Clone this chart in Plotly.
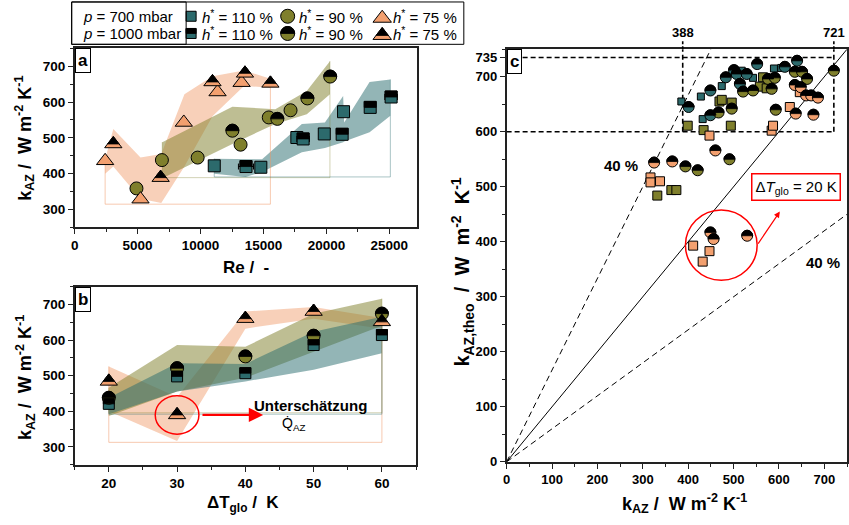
import math
import plotly.graph_objects as go

W, H = 849, 525
FONT = "Liberation Sans, Arial, Helvetica, sans-serif"

TEAL = "#2C6A6C"
OLIVE = "#7F7F2C"
ORANGE = "#F3A06F"
BAND = {"orange": "rgba(240,150,100,0.45)", "olive": "rgba(125,125,40,0.5)", "teal": "rgba(40,108,110,0.5)"}
EDGE = {"orange": "rgba(240,150,100,0.5)", "olive": "rgba(125,125,40,0.35)", "teal": "rgba(40,108,110,0.4)"}

# ---------------- (a) k_AZ over Re ----------------
re_tri_700 = [2420, 5230, 8670, 11350, 13260]
k_tri_700 = [436, 329, 543, 628, 654]
re_tri_1000 = [3070, 6830, 10950, 13530, 15550]
k_tri_1000 = [483, 389, 656, 680, 652]
re_cir_700 = [4910, 6930, 9770, 13180, 15420, 17150]
k_cir_700 = [359, 438, 445, 481, 557, 577]
re_cir_1000 = [12530, 16100, 18490, 20300]
k_cir_1000 = [520, 553, 610, 671]
re_sq_700 = [11090, 14790, 17650, 19830, 21360]
k_sq_700 = [422, 418, 501, 511, 573]
re_sq_1000 = [13610, 18150, 21250, 23480, 25140]
k_sq_1000 = [420, 497, 510, 585, 614]
re_err_cir_700 = [300, 0, 0, 0, 0, 0]
re_err_sq_1000 = [600, 500, 0, 0, 500]

band_a_orange_re = [2420, 3070, 5230, 6880, 8720, 10950, 13450, 15550]
band_a_orange_hi = [440, 525, 445, 455, 622, 672, 688, 665]
band_a_orange_lo = [400, 420, 330, 318, 420, 560, 645, 640]
band_a_olive_re = [6960, 12530, 15940, 18440, 20280]
band_a_olive_hi = [488, 587, 580, 631, 714]
band_a_olive_lo = [387, 483, 539, 566, 622]
band_a_teal_re = [11090, 13580, 14890, 18050, 19880, 21330, 21410, 23430, 25080]
band_a_teal_hi = [442, 442, 440, 539, 543, 617, 543, 656, 663]
band_a_teal_lo = [400, 391, 405, 460, 472, 488, 490, 516, 562]
base_a = {"orange": 315, "olive": 389, "teal": 391}

# ---------------- (b) k_AZ over Delta T_glo ----------------
dt_glo = [20, 30, 40, 50, 60]
kb_tri = [484, 390, 660, 680, 651]
kb_cir = [438, 521, 554, 612, 674]
kb_sq = [421, 498, 507, 586, 614]
band_b_orange_hi = [526, 440, 680, 693, 662]
band_b_orange_lo = [400, 317, 632, 660, 632]
band_b_olive_hi = [466, 586, 581, 674, 716]
band_b_olive_lo = [387, 456, 494, 567, 640]
band_b_teal_hi = [438, 535, 533, 623, 665]
band_b_teal_lo = [392, 456, 484, 517, 563]
base_b = {"orange": 313, "olive": 396, "teal": 392}

# ---------------- (c) k_AZ,theo over k_AZ ----------------
c_sq_110_x = [385, 428, 432, 474, 503, 518, 543, 589, 605]
c_sq_110_y = [655, 664, 623, 683, 709, 711, 698, 715, 716]
c_ci_110_x = [401, 449, 449, 483, 501, 507, 529, 514, 552, 613, 640]
c_ci_110_y = [645, 675, 630, 699, 712, 705, 705, 687, 723, 718, 729]
c_sq_90_x = [399, 434, 469, 474, 496, 494, 332, 363, 374, 565, 558, 573]
c_sq_90_y = [611, 603, 655, 658, 653, 611, 484, 494, 494, 699, 682, 679]
c_ci_90_x = [521, 543, 467, 496, 576, 584, 591, 593, 635, 651, 662, 721, 394, 421, 491]
c_ci_90_y = [673, 675, 635, 642, 696, 678, 698, 640, 709, 709, 696, 711, 537, 530, 550]
c_sq_75_x = [317, 317, 338, 447, 584, 587, 624, 646, 411, 447, 432]
c_sq_75_y = [517, 508, 510, 593, 602, 611, 645, 672, 393, 383, 364]
c_ci_75_x = [325, 365, 460, 635, 648, 660, 671, 686, 676, 637, 449, 456, 530]
c_ci_75_y = [544, 546, 566, 685, 681, 666, 666, 662, 631, 633, 417, 405, 411]

deviation = 0.40
box_x = [388, 721]
box_y = [600, 735]
c_max = 750

legend_h = ["110", "90", "75"]
legend_p = ["700", "1000"]

fig = go.Figure()
shapes, annotations = [], []


def px(x):
    return x / W


def py(y):
    return 1 - y / H


def half_path(symbol, size):
    r = size / 2.0
    if symbol == "circle":
        pts = [(r * math.cos(math.pi * i / 16), r * math.sin(math.pi * i / 16)) for i in range(17)]
    elif symbol == "square":
        pts = [(-r, 0), (r, 0), (r, r), (-r, r)]
    else:
        w = (2 * r / math.sqrt(3)) / 1.5
        pts = [(-w, 0), (w, 0), (0, r)]
    return "M " + " L ".join(f"{a:.2f},{b:.2f}" for a, b in pts) + " Z"


def band(xs, hi, lo, key, xa, ya):
    fig.add_trace(go.Scatter(x=list(xs) + list(xs)[::-1], y=list(hi) + list(lo)[::-1],
                             fill="toself", fillcolor=BAND[key], line=dict(width=0), mode="lines",
                             xaxis=xa, yaxis=ya, hoverinfo="skip", showlegend=False))


def outline(xs, hi, base, key, xa, ya):
    fig.add_trace(go.Scatter(x=[xs[0], xs[0], xs[-1], xs[-1]], y=[hi[0], base, base, hi[-1]],
                             mode="lines", line=dict(color=EDGE[key], width=1),
                             xaxis=xa, yaxis=ya, hoverinfo="skip", showlegend=False))


def markers(xs, ys, symbol, color, size, xa, ya, half=False, ex=None, ey=None):
    kw = {}
    if ex is not None:
        kw["error_x"] = dict(type="data", array=ex, color="black", thickness=1, width=3)
    if ey is not None:
        kw["error_y"] = dict(type="data", array=ey, color="black", thickness=1, width=0)
    fig.add_trace(go.Scatter(x=xs, y=ys, mode="markers",
                             marker=dict(symbol=symbol, size=size, color=color,
                                         line=dict(color="black", width=1)),
                             xaxis=xa, yaxis=ya, cliponaxis=False, hoverinfo="skip",
                             showlegend=False, **kw))
    if half:
        path = half_path(symbol, size)
        for x, y in zip(xs, ys):
            shapes.append(dict(type="path", xref=xa, yref=ya, xsizemode="pixel", ysizemode="pixel",
                               xanchor=x, yanchor=y, path=path, fillcolor="black",
                               line=dict(color="black", width=0.8), layer="above"))


def text(t, x, y, size=15, bold=False, xanchor="center", yanchor="middle", angle=0, color="black", **kw):
    annotations.append(dict(text=t, x=px(x), y=py(y), xref="paper", yref="paper", showarrow=False,
                            xanchor=xanchor, yanchor=yanchor, textangle=angle,
                            font=dict(family=FONT, size=size, color=color,
                                      weight="bold" if bold else "normal"), **kw))


# ---- panel a ----
band(band_a_orange_re, band_a_orange_hi, band_a_orange_lo, "orange", "x", "y")
band(band_a_olive_re, band_a_olive_hi, band_a_olive_lo, "olive", "x", "y")
band(band_a_teal_re, band_a_teal_hi, band_a_teal_lo, "teal", "x", "y")
outline(band_a_orange_re, band_a_orange_hi, base_a["orange"], "orange", "x", "y")
outline(band_a_olive_re, band_a_olive_hi, base_a["olive"], "olive", "x", "y")
outline(band_a_teal_re, band_a_teal_hi, base_a["teal"], "teal", "x", "y")
markers(re_sq_700, k_sq_700, "square", TEAL, 12, "x", "y")
markers(re_sq_1000, k_sq_1000, "square", TEAL, 12, "x", "y", half=True, ex=re_err_sq_1000)
markers(re_cir_700, k_cir_700, "circle", OLIVE, 13, "x", "y", ex=re_err_cir_700, ey=[8] * len(k_cir_700))
markers(re_cir_1000, k_cir_1000, "circle", OLIVE, 13, "x", "y", half=True, ey=[8] * len(k_cir_1000))
markers(re_tri_700, k_tri_700, "triangle-up", ORANGE, 15, "x", "y", ey=[8] * len(k_tri_700))
markers(re_tri_1000, k_tri_1000, "triangle-up", ORANGE, 15, "x", "y", half=True, ey=[8] * len(k_tri_1000))

# ---- panel b ----
band(dt_glo, band_b_orange_hi, band_b_orange_lo, "orange", "x2", "y2")
band(dt_glo, band_b_olive_hi, band_b_olive_lo, "olive", "x2", "y2")
band(dt_glo, band_b_teal_hi, band_b_teal_lo, "teal", "x2", "y2")
outline(dt_glo, band_b_orange_hi, base_b["orange"], "orange", "x2", "y2")
outline(dt_glo, band_b_olive_hi, base_b["olive"], "olive", "x2", "y2")
outline(dt_glo, band_b_teal_hi, base_b["teal"], "teal", "x2", "y2")
markers(dt_glo, kb_sq, "square", TEAL, 11, "x2", "y2", half=True, ey=[10] * 5)
markers(dt_glo, kb_cir, "circle", OLIVE, 13, "x2", "y2", half=True, ey=[10] * 5)
markers(dt_glo, kb_tri, "triangle-up", ORANGE, 15, "x2", "y2", half=True, ey=[8] * 5)

# red mark around the under-estimated point
mark_x, mark_y = dt_glo[1], kb_tri[1]
shapes.append(dict(type="circle", xref="x2", yref="y2", x0=mark_x - 3.2, x1=mark_x + 3.2,
                   y0=mark_y - 54, y1=mark_y + 54, line=dict(color="red", width=1.5), layer="above"))
annotations.append(dict(x=42.6, y=mark_y, ax=mark_x + 3.5, ay=mark_y, xref="x2", yref="y2",
                        axref="x2", ayref="y2", showarrow=True, arrowhead=2, arrowsize=1.3,
                        arrowwidth=2.2, arrowcolor="red", text=""))
text("Unterschätzung", 308, 412, size=15, bold=True)
text("Q\u0307<sub>AZ</sub>", 291, 431, size=14)

# ---- panel c ----
diag = [0, c_max]
fig.add_trace(go.Scatter(x=diag, y=diag, mode="lines", line=dict(color="black", width=1),
                         xaxis="x3", yaxis="y3", hoverinfo="skip", showlegend=False))
fig.add_trace(go.Scatter(x=[0, c_max * (1 - deviation)], y=[0, c_max], mode="lines",
                         line=dict(color="black", width=1, dash="6px,4px"),
                         xaxis="x3", yaxis="y3", hoverinfo="skip", showlegend=False))
fig.add_trace(go.Scatter(x=[0, c_max], y=[0, c_max * (1 - deviation)], mode="lines",
                         line=dict(color="black", width=1, dash="6px,4px"),
                         xaxis="x3", yaxis="y3", hoverinfo="skip", showlegend=False))
for yv in box_y:
    fig.add_trace(go.Scatter(x=[0, box_x[1]], y=[yv, yv], mode="lines",
                             line=dict(color="black", width=1.6, dash="5px,3px"),
                             xaxis="x3", yaxis="y3", hoverinfo="skip", showlegend=False))
for xv in box_x:
    fig.add_trace(go.Scatter(x=[xv, xv], y=[box_y[0], c_max], mode="lines",
                             line=dict(color="black", width=1.6, dash="5px,3px"),
                             xaxis="x3", yaxis="y3", hoverinfo="skip", showlegend=False))
    shapes.append(dict(type="line", xref="x3", yref="paper", x0=xv, x1=xv, y0=py(50), y1=py(42),
                       line=dict(color="black", width=1.6, dash="3px,2px")))
    annotations.append(dict(text=str(xv), x=xv, y=py(33), xref="x3", yref="paper", showarrow=False,
                            xanchor="center", yanchor="middle",
                            font=dict(family=FONT, size=13, color="black", weight="bold")))

markers(c_sq_110_x, c_sq_110_y, "square", TEAL, 7, "x3", "y3")
markers(c_sq_90_x, c_sq_90_y, "square", OLIVE, 9, "x3", "y3")
markers(c_sq_75_x, c_sq_75_y, "square", ORANGE, 9, "x3", "y3")
markers(c_ci_110_x, c_ci_110_y, "circle", TEAL, 11, "x3", "y3", half=True)
markers(c_ci_90_x, c_ci_90_y, "circle", OLIVE, 11, "x3", "y3", half=True)
markers(c_ci_75_x, c_ci_75_y, "circle", ORANGE, 11, "x3", "y3", half=True)

ccx, ccy, crx, cry = 473, 394, 79, 64
shapes.append(dict(type="circle", xref="x3", yref="y3", x0=ccx - crx, x1=ccx + crx,
                   y0=ccy - cry, y1=ccy + cry, line=dict(color="red", width=1.5), layer="above"))
annotations.append(dict(x=602, y=455, ax=ccx + crx, ay=ccy, xref="x3", yref="y3", axref="x3",
                        ayref="y3", showarrow=True, arrowhead=2, arrowsize=1, arrowwidth=1.2,
                        arrowcolor="red", text=""))
text("\u0394<i>T</i><sub>glo</sub> = 20 K", 796, 190, size=15, bordercolor="red", borderwidth=1.5,
     borderpad=3, bgcolor="white")
text("40 %", 620, 168, size=15, bold=True)
text("40 %", 823, 267, size=15, bold=True)

# ---- panel labels ----
for lab, xr, yr in [("a", "x", "y"), ("b", "x2", "y2"), ("c", "x3", "y3")]:
    annotations.append(dict(text=lab, x=0, y=1, xref=f"{xr} domain", yref=f"{yr} domain",
                            showarrow=False, xanchor="left", yanchor="top", bgcolor="white",
                            bordercolor="black", borderwidth=1, borderpad=2,
                            font=dict(family=FONT, size=17, color="black", weight="bold")))

# ---- axis titles ----
S = "\u00a0"
kaz = f"k<sub>AZ</sub>{S}/{S}{S}W{S}m<sup>-2</sup>{S}K<sup>-1</sup>"
text(kaz, 21, 140, size=18, bold=True, angle=-90)
text(kaz, 21, 383, size=18, bold=True, angle=-90)
text(f"Re{S}/{S}{S}-", 243, 272, size=17, bold=True)
text(f"\u0394T<sub>glo</sub>{S}/{S}{S}K", 240, 512, size=17, bold=True)
text(f"k<sub>AZ,theo</sub>{S}{S}/{S}{S}W{S}{S}m<sup>-2</sup>{S}{S}K<sup>-1</sup>", 461, 276,
     size=20, bold=True, angle=-90)
text(kaz, 684, 511, size=18, bold=True)

# ---- legend ----
shapes.append(dict(type="rect", xref="paper", yref="paper", x0=px(68), x1=px(462), y0=py(45), y1=py(2),
                   line=dict(color="black", width=1), fillcolor="white", layer="below"))
shapes.append(dict(type="rect", xref="paper", yref="paper", x0=px(68), x1=px(183), y0=py(45), y1=py(2),
                   line=dict(color="black", width=1)))
leg_rows = [16.5, 34]
leg_cols = [188, 285, 380]
leg_sym = [("square", TEAL, 10), ("circle", OLIVE, 14), ("triangle-up", ORANGE, 16)]
for ri, (pv, ry) in enumerate(zip(legend_p, leg_rows)):
    text(f"<i>p</i> = {pv} mbar", 77, ry, size=15, xanchor="left")
    for (sym, col, sz), cx, hv in zip(leg_sym, leg_cols, legend_h):
        yoff = 2 if sym == "triangle-up" else 0
        markers([cx], [ry + yoff], sym, col, sz, "x4", "y4", half=(ri == 1))
        text(f"<i>h</i><sup>*</sup> = {hv} %", cx + 9, ry, size=15, xanchor="left")


def ax_style(rng, size=13.5, **kw):
    d = dict(range=rng, showline=True, linecolor="#222", linewidth=1.5, mirror=True, ticks="outside",
             ticklen=5, tickwidth=1.2, tickcolor="#222", showgrid=False, zeroline=False,
             tickfont=dict(family=FONT, size=size, color="black", weight="bold"))
    d.update(kw)
    return d


fig.update_layout(
    width=W, height=H, margin=dict(l=0, r=0, t=0, b=0),
    paper_bgcolor="white", plot_bgcolor="rgba(0,0,0,0)", showlegend=False,
    xaxis=ax_style([0, 27200], domain=[px(71), px(415)], anchor="y", tickvals=[0, 5000, 10000, 15000, 20000, 25000],
                   tickformat="d", minor=dict(dtick=2500, tick0=0, ticks="outside", ticklen=3, tickcolor="#222")),
    yaxis=ax_style([250, 750], domain=[py(231), py(49)], anchor="x", tick0=0, dtick=100,
                   minor=dict(dtick=50, tick0=0, ticks="outside", ticklen=3, tickcolor="#222")),
    xaxis2=ax_style([15, 65], domain=[px(71), px(414)], anchor="y2", tick0=0, dtick=10,
                    minor=dict(dtick=5, tick0=0, ticks="outside", ticklen=3, tickcolor="#222")),
    yaxis2=ax_style([250, 750], domain=[py(472), py(291)], anchor="x2", tick0=0, dtick=100,
                    minor=dict(dtick=50, tick0=0, ticks="outside", ticklen=3, tickcolor="#222")),
    xaxis3=ax_style([0, c_max], size=13, domain=[px(505), px(847)], anchor="y3", tick0=0, dtick=100,
                    minor=dict(dtick=50, tick0=0, ticks="outside", ticklen=3, tickcolor="#222")),
    yaxis3=ax_style([0, c_max], size=13, domain=[py(469), py(50)], anchor="x3",
                    tickvals=[0, 100, 200, 300, 400, 500, 600, 700] + [box_y[1]],
                    minor=dict(dtick=50, tick0=0, ticks="outside", ticklen=3, tickcolor="#222")),
    xaxis4=dict(domain=[0, 1], range=[0, W], visible=False, anchor="y4"),
    yaxis4=dict(domain=[0, 1], range=[H, 0], visible=False, anchor="x4"),
    shapes=shapes, annotations=annotations,
)

fig.write_html("out.html")
